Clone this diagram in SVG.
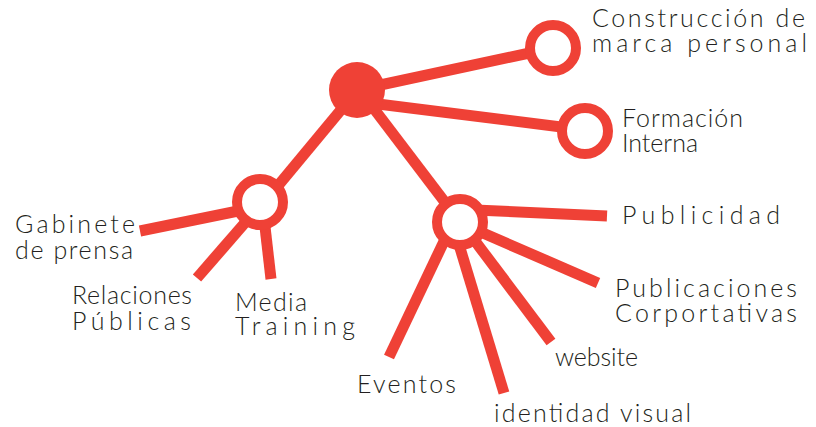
<svg xmlns="http://www.w3.org/2000/svg" width="816" height="427" viewBox="0 0 816 427">
<style>
.c{stroke:#EF4136;stroke-width:11;fill:none;stroke-linecap:butt}
.ring{fill:#fff;stroke:#EF4136;stroke-width:10}
.t{font-family:Lato,"Liberation Sans",sans-serif;font-weight:300;font-size:25px;fill:#231F20}
</style>
<rect width="816" height="427" fill="#fff"/>
<g id="connectors">
<line class="c" x1="357" y1="90" x2="553" y2="48"/>
<line class="c" x1="370" y1="103" x2="585" y2="130"/>
<line class="c" x1="345" y1="105" x2="262" y2="205"/>
<line class="c" x1="365" y1="97" x2="460" y2="222"/>
<line class="c" x1="243" y1="210" x2="140" y2="231"/>
<line class="c" x1="250" y1="217" x2="197" y2="278"/>
<line class="c" x1="264" y1="218" x2="271" y2="279"/>
<line class="c" x1="475" y1="210" x2="607" y2="216"/>
<line class="c" x1="476" y1="230" x2="598" y2="283"/>
<line class="c" x1="472" y1="237" x2="551" y2="342"/>
<line class="c" x1="457" y1="238" x2="504" y2="393"/>
<line class="c" x1="447" y1="235" x2="389" y2="357"/>
</g>
<g id="root"><circle cx="357" cy="90" r="28" fill="#EF4136"/></g>
<g id="n-construccion">
<circle class="ring" cx="553" cy="48" r="23"/>
<text class="t" x="592" y="27" textLength="213" lengthAdjust="spacing">Construcción de</text>
<text class="t" x="592" y="52" textLength="215" lengthAdjust="spacing">marca personal</text>
</g>
<g id="n-formacion">
<circle class="ring" cx="585" cy="131" r="23"/>
<text class="t" x="622" y="127" textLength="121" lengthAdjust="spacing">Formación</text>
<text class="t" x="622" y="152" textLength="76" lengthAdjust="spacing">Interna</text>
</g>
<g id="hub-left"><circle class="ring" cx="260" cy="202" r="23"/></g>
<g id="hub-right"><circle class="ring" cx="460" cy="222" r="23"/></g>
<g id="n-gabinete">
<text class="t" x="15" y="233" textLength="120" lengthAdjust="spacing">Gabinete</text>
<text class="t" x="15" y="259" textLength="118" lengthAdjust="spacing">de prensa</text>
</g>
<g id="n-relaciones">
<text class="t" x="72" y="304" textLength="120" lengthAdjust="spacing">Relaciones</text>
<text class="t" x="72" y="330" textLength="119" lengthAdjust="spacing">Públicas</text>
</g>
<g id="n-media">
<text class="t" x="235" y="311" textLength="72" lengthAdjust="spacing">Media</text>
<text class="t" x="235" y="335" textLength="120" lengthAdjust="spacing">Training</text>
</g>
<g id="n-publicidad">
<text class="t" x="622" y="224" textLength="158" lengthAdjust="spacing">Publicidad</text>
</g>
<g id="n-publicaciones">
<text class="t" x="615" y="297" textLength="182" lengthAdjust="spacing">Publicaciones</text>
<text class="t" x="615" y="322" textLength="182" lengthAdjust="spacing">Corportativas</text>
</g>
<g id="n-website"><text class="t" x="555" y="366" textLength="83" lengthAdjust="spacing">website</text></g>
<g id="n-eventos"><text class="t" x="357" y="393" textLength="99" lengthAdjust="spacing">Eventos</text></g>
<g id="n-identidad"><text class="t" x="494" y="422" textLength="197" lengthAdjust="spacing">identidad visual</text></g>
</svg>
